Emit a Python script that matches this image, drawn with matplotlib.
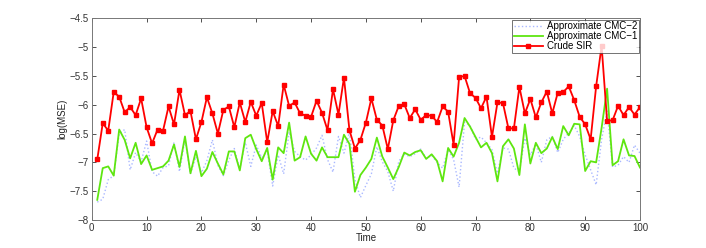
import matplotlib
matplotlib.use("Agg")
import matplotlib.pyplot as plt
import numpy as np

time = list(range(1, 101))

cmc2 = [-7.69, -7.64, -7.30, -7.23, -6.50, -6.43, -7.13, -6.83, -6.99, -6.63,
        -7.16, -7.24, -7.09, -7.06, -6.65, -7.16, -6.60, -7.20, -6.90, -7.18,
        -6.97, -6.61, -7.05, -7.23, -6.96, -6.76, -7.12, -6.65, -7.07, -6.70,
        -6.92, -6.80, -7.41, -6.87, -7.20, -6.47, -6.81, -6.90, -6.96, -6.87,
        -6.75, -6.53, -6.95, -7.17, -6.55, -6.84, -6.48, -7.30, -7.61, -7.40,
        -7.20, -6.73, -6.99, -7.16, -7.50, -6.98, -6.86, -6.90, -6.85, -6.77,
        -6.93, -6.88, -7.00, -7.10, -6.78, -6.95, -7.43, -6.30, -6.36, -6.60,
        -6.56, -6.66, -6.78, -7.19, -6.75, -6.77, -7.10, -7.16, -6.58, -6.87,
        -6.68, -7.00, -6.61, -6.55, -6.83, -6.60, -6.49, -6.36, -6.55, -6.87,
        -7.13, -7.39, -6.60, -6.10, -7.08, -7.05, -6.90, -7.00, -6.70, -6.84]

cmc1 = [-7.65, -7.10, -7.07, -7.23, -6.43, -6.61, -6.93, -6.66, -7.03, -6.88,
        -7.13, -7.10, -7.07, -6.97, -6.69, -7.08, -6.55, -7.19, -6.80, -7.24,
        -7.11, -6.82, -7.02, -7.21, -6.81, -6.81, -7.14, -6.58, -6.52, -6.77,
        -6.98, -6.75, -7.30, -6.74, -6.84, -6.31, -6.97, -6.91, -6.55, -6.85,
        -6.97, -6.74, -6.91, -6.91, -6.91, -6.52, -6.68, -7.51, -7.22, -7.09,
        -6.94, -6.57, -6.90, -7.09, -7.29, -7.08, -6.83, -6.88, -6.82, -6.79,
        -6.94, -6.86, -6.98, -7.33, -6.75, -6.90, -6.66, -6.23, -6.38, -6.56,
        -6.74, -6.66, -6.84, -7.33, -6.72, -6.60, -6.76, -7.22, -6.34, -7.02,
        -6.66, -6.84, -6.76, -6.56, -6.77, -6.37, -6.53, -6.33, -6.34, -7.15,
        -6.98, -7.00, -6.40, -5.72, -7.05, -6.98, -6.60, -6.88, -6.89, -7.09]

sir = [-6.95, -6.32, -6.45, -5.78, -5.86, -6.13, -6.04, -6.18, -5.89, -6.39,
       -6.67, -6.43, -6.45, -6.03, -6.34, -5.74, -6.18, -6.11, -6.60, -6.30,
       -5.87, -6.15, -6.50, -6.09, -6.03, -6.39, -5.96, -6.30, -5.95, -6.19,
       -5.97, -6.65, -6.11, -6.37, -5.65, -6.02, -5.96, -6.15, -6.19, -6.21,
       -5.93, -6.14, -6.44, -5.73, -6.17, -5.53, -6.44, -6.76, -6.61, -6.31,
       -5.89, -6.26, -6.36, -6.77, -6.27, -6.02, -5.99, -6.23, -6.08, -6.26,
       -6.18, -6.19, -6.30, -6.03, -6.12, -6.69, -5.52, -5.50, -5.80, -5.88,
       -6.06, -5.86, -6.56, -5.96, -5.97, -6.41, -6.41, -5.69, -6.15, -5.90,
       -6.22, -5.96, -5.77, -6.15, -5.79, -5.78, -5.68, -5.92, -6.21, -6.34,
       -6.60, -5.68, -4.98, -6.28, -6.27, -6.02, -6.18, -6.04, -6.17, -6.04]

xticks = [0, 10, 20, 30, 40, 50, 60, 70, 80, 90, 100]
yticks = [-8, -7.5, -7, -6.5, -6, -5.5, -5, -4.5]
ytick_labels = ["\u22128", "\u22127.5", "\u22127", "\u22126.5", "\u22126", "\u22125.5", "\u22125", "\u22124.5"]

plt.rcParams['font.family'] = ['Liberation Sans', 'DejaVu Sans']
fig = plt.figure(figsize=(7.06, 2.48), dpi=100)
ax = fig.add_axes([0.130, 0.113, 0.7765, 0.813])

ax.plot(time, cmc2, color='#a9b8ff', linestyle=':', linewidth=1.0, label='Approximate CMC\u22122')
ax.plot(time, cmc1, color='#5ee610', linestyle='-', linewidth=1.3, label='Approximate CMC\u22121')
ax.plot(time, sir, color='#ff0000', linestyle='-', linewidth=1.3, marker='s', markersize=2.2,
        label='Crude SIR')

ax.set_xlim(0, 100)
ax.set_ylim(-8, -4.5)
ax.set_xticks(xticks)
ax.set_xticklabels([str(v) for v in xticks])
ax.set_yticks(yticks)
ax.set_yticklabels(ytick_labels)
ax.tick_params(direction='in', length=3, width=0.6, labelsize=7, colors='#333333',
               top=True, right=True, pad=2)
for s in ax.spines.values():
    s.set_color('#777777')
    s.set_linewidth(0.7)

ax.set_xlabel('Time', fontsize=7, labelpad=0, color='#222222')
ax.set_ylabel('log(MSE)', fontsize=7, labelpad=2, color='#222222')

leg = ax.legend(loc='upper right', fontsize=7, frameon=True, fancybox=False,
                borderpad=0.15, labelspacing=0.0, handlelength=3.0, handletextpad=0.4,
                borderaxespad=0.15)
leg.get_frame().set_edgecolor('#333333')
leg.get_frame().set_linewidth(0.6)

fig.savefig('out.png', dpi=100)
